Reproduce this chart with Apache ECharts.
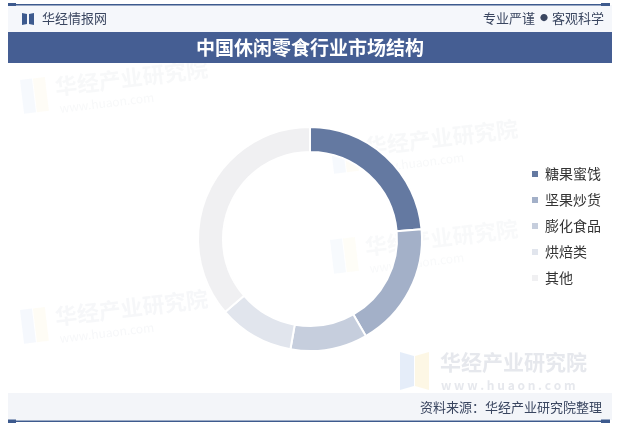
<!DOCTYPE html>
<html>
<head>
<meta charset="utf-8">
<script src="https://cdn.jsdelivr.net/npm/echarts@6/dist/echarts.min.js"></script>
<style>
html,body{margin:0;padding:0;background:#fff;}
#main{width:618px;height:426px;}
</style>
</head>
<body>
<div id="main"></div>
<script>
const categories = ['糖果蜜饯', '坚果炒货', '膨化食品', '烘焙类', '其他'];
const values = [23.6, 18.1, 11.1, 10.9, 36.3];
const colors = ['#6479a1', '#a3b0c8', '#c6cedd', '#e1e5ed', '#f0f0f2'];
const titleText = '中国休闲零食行业市场结构';
const sourceText = '资料来源：华经产业研究院整理';

const chart = echarts.init(document.getElementById('main'), null, {renderer: 'canvas'});
const FONT = '"Noto Sans CJK SC", "Noto Sans", sans-serif';

function watermark(x, y, op) {
  return {
    type: 'group', x: x, y: y, rotation: 0.12, silent: true, z: 0,
    children: [
      {type: 'rect', shape: {x: 0, y: 0, width: 12, height: 34}, style: {fill: 'rgba(190,210,240,' + op + ')'}},
      {type: 'rect', shape: {x: 13, y: 0, width: 12, height: 34}, style: {fill: 'rgba(250,235,190,' + op + ')'}},
      {type: 'text', x: 34, y: 0, style: {text: '华经产业研究院', font: 'bold 22px ' + FONT, fill: 'rgba(200,205,215,' + op + ')'}},
      {type: 'text', x: 36, y: 27, style: {text: 'www.huaon.com', font: '12px ' + FONT, fill: 'rgba(200,205,215,' + op + ')'}}
    ]
  };
}

const option = {
  backgroundColor: '#ffffff',
  color: colors,
  graphic: [
    // header background
    {type: 'rect', shape: {x: 8, y: 5, width: 604, height: 27}, style: {fill: '#f5f7fb'}, z: 1},
    {type: 'rect', shape: {x: 8, y: 4, width: 602, height: 1.5}, style: {fill: '#3d5a8e'}, z: 2},
    {type: 'rect', shape: {x: 8, y: 3, width: 8, height: 3}, style: {fill: '#3d5a8e'}, z: 2},
    {type: 'rect', shape: {x: 601, y: 3, width: 9, height: 3}, style: {fill: '#3d5a8e'}, z: 2},
    // book icon
    {type: 'polygon', shape: {points: [[22, 13], [27, 14], [27, 24], [22, 25]]}, style: {fill: '#3d5a8e'}, z: 2},
    {type: 'polygon', shape: {points: [[29, 14], [34, 13], [34, 25], [29, 24]]}, style: {fill: '#3d5a8e'}, z: 2},
    {type: 'text', x: 42, y: 18, style: {text: '华经情报网', font: '13px ' + FONT, fill: '#3a4660', verticalAlign: 'middle'}, z: 2},
    {type: 'text', x: 604, y: 18, style: {
      text: '{a|专业严谨}{d|●}{a|客观科学}',
      rich: {a: {font: '13px ' + FONT, fill: '#3a4660'}, d: {font: '8px ' + FONT, fill: '#3a4660', padding: [0, 4, 0, 5]}},
      align: 'right', verticalAlign: 'middle'}, z: 2},
    // title band
    {type: 'rect', shape: {x: 8, y: 32, width: 604, height: 31}, style: {fill: '#455e93'}, z: 1},
    {type: 'text', x: 310, y: 48, style: {text: titleText, font: 'bold 19px ' + FONT, fill: '#ffffff', align: 'center', verticalAlign: 'middle'}, z: 2},
    // watermarks
    watermark(20, 80, 0.14),
    watermark(330, 140, 0.14),
    watermark(20, 310, 0.16),
    watermark(330, 240, 0.12),
    {
      type: 'group', x: 400, y: 352, silent: true, z: 0,
      children: [
        {type: 'polygon', shape: {points: [[0, 0], [14, 4], [14, 34], [0, 38]]}, style: {fill: 'rgba(190,210,240,0.4)'}},
        {type: 'polygon', shape: {points: [[15, 4], [29, 0], [29, 38], [15, 34]]}, style: {fill: 'rgba(250,235,190,0.4)'}},
        {type: 'text', x: 40, y: 0, style: {text: '华经产业研究院', font: 'bold 21px ' + FONT, fill: 'rgba(205,210,220,0.5)'}},
        {type: 'text', x: 41, y: 27, style: {text: 'w w w . h u a o n . c o m', font: 'bold 12px ' + FONT, fill: 'rgba(205,210,220,0.5)'}}
      ]
    },
    // footer
    {type: 'rect', shape: {x: 8, y: 393, width: 604, height: 27}, style: {fill: '#f3f5f9'}, z: 1},
    {type: 'text', x: 602, y: 407, style: {text: sourceText, font: '13px ' + FONT, fill: '#3a4660', align: 'right', verticalAlign: 'middle'}, z: 2},
    {type: 'rect', shape: {x: 8, y: 420.5, width: 602, height: 1.5}, style: {fill: '#3d5a8e'}, z: 2},
    {type: 'rect', shape: {x: 8, y: 419.5, width: 8, height: 3.5}, style: {fill: '#3d5a8e'}, z: 2},
    {type: 'rect', shape: {x: 601, y: 419.5, width: 9, height: 3.5}, style: {fill: '#3d5a8e'}, z: 2}
  ],
  legend: {
    orient: 'vertical',
    left: 525,
    top: 162,
    icon: 'rect',
    itemWidth: 8,
    itemHeight: 8,
    itemGap: 12,
    textStyle: {fontSize: 14, color: '#333', fontFamily: FONT, padding: [0, 0, 0, 1]},
    data: categories
  },
  series: [{
    type: 'pie',
    center: [310, 239],
    radius: [87, 112],
    startAngle: 90,
    clockwise: true,
    label: {show: false},
    labelLine: {show: false},
    itemStyle: {borderColor: '#ffffff', borderWidth: 2},
    emphasis: {disabled: true},
    animation: false,
    data: categories.map((c, i) => ({name: c, value: values[i]})),
    z: 5
  }],
  animation: false
};
chart.setOption(option);
</script>
</body>
</html>
